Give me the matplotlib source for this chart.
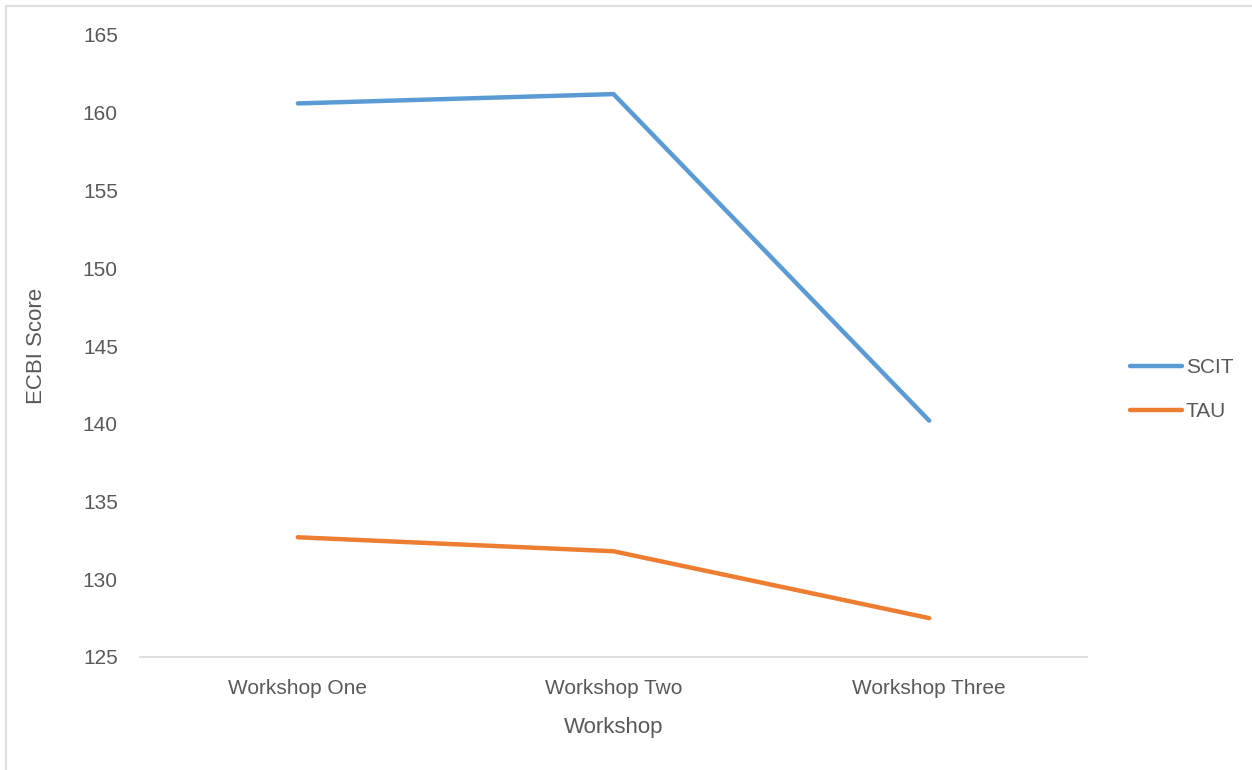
import matplotlib.pyplot as plt
from matplotlib.patches import Rectangle
from matplotlib.lines import Line2D

# Data
workshops = ['Workshop One', 'Workshop Two', 'Workshop Three']
scit = [160.6, 161.2, 140.2]
tau = [132.7, 131.8, 127.5]

text_color = '#595959'
plt.rcParams['font.family'] = 'Liberation Sans'

fig = plt.figure(figsize=(12.52, 7.70), dpi=100)
ax = fig.add_axes([140 / 1252, 1 - 657 / 770, (1087 - 140) / 1252, (657 - 35) / 770])

x = range(len(workshops))
ax.plot(x, scit, color='#5B9BD5', linewidth=3.2, label='SCIT', solid_capstyle='round')
ax.plot(x, tau, color='#ED7D31', linewidth=3.2, label='TAU', solid_capstyle='round')

ax.set_xlim(-0.5, 2.5)
ax.set_ylim(125, 165)
ax.set_yticks(range(125, 166, 5))
ax.set_xticks(list(x))
ax.set_xticklabels(workshops)
ax.tick_params(axis='both', length=0, labelsize=15, colors=text_color)
ax.tick_params(axis='y', pad=16)
ax.tick_params(axis='x', pad=15.5)

for side in ['top', 'right', 'left']:
    ax.spines[side].set_visible(False)
ax.spines['bottom'].set_color('#d9d9d9')
ax.spines['bottom'].set_linewidth(1.2)

ax.set_xlabel('Workshop', fontsize=16, color=text_color, labelpad=14)
ax.set_ylabel('ECBI Score', fontsize=16, color=text_color, labelpad=26)

# Legend on the right
handles = [Line2D([], [], color='#5B9BD5', linewidth=3.2, solid_capstyle='round'),
           Line2D([], [], color='#ED7D31', linewidth=3.2, solid_capstyle='round')]
fig.legend(handles, ['SCIT', 'TAU'], loc='center left',
           bbox_to_anchor=(1111 / 1252, 1 - 390 / 770), frameon=False,
           fontsize=15, labelcolor=text_color, handlelength=2.5,
           handletextpad=0.2, labelspacing=1.2)

# Chart border
fig.patches.append(Rectangle((6 / 1252, -0.1), 1.1, 1 - 6 / 770 + 0.1,
                             transform=fig.transFigure, fill=False,
                             edgecolor='#d9d9d9', linewidth=1.2))

fig.savefig('out.png', dpi=100)
